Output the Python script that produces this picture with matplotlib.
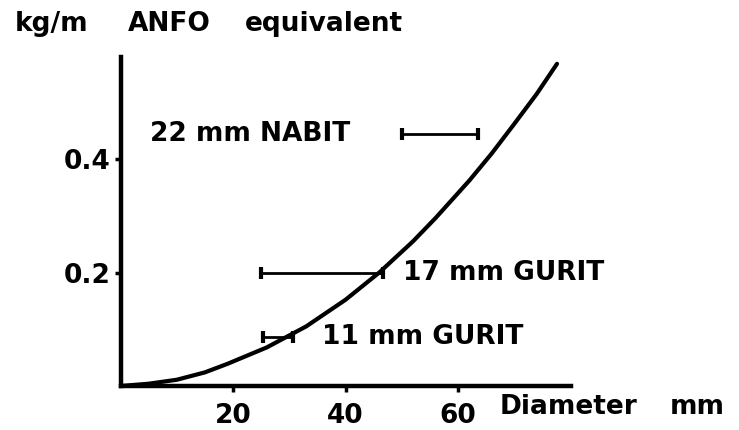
import numpy as np
import matplotlib.pyplot as plt

plt.rcParams['font.family'] = ['DejaVu Sans']
plt.rcParams['font.weight'] = 'bold'

# curve: diameter (mm) vs kg/m ANFO equivalent
diam = [0, 5, 10, 15, 19, 26, 33, 40, 46, 52, 56, 62, 66, 70, 74, 77.6]
anfo = [0, 0.004, 0.011, 0.024, 0.039, 0.068, 0.105, 0.152, 0.2, 0.255, 0.296,
        0.362, 0.41, 0.462, 0.515, 0.568]

# charge ranges
bar_labels = ["22 mm NABIT", "17 mm GURIT", "11 mm GURIT"]
bar_lo = [50.0, 25.0, 25.3]
bar_hi = [63.6, 46.7, 30.7]
bar_y = [0.444, 0.2, 0.087]
label_x = [5.3, 50.2, 35.9]

xticks = [20, 40, 60]
yticks = [0.2, 0.4]

fs = 19

W, H = 739, 430
fig = plt.figure(figsize=(W / 100, H / 100), dpi=100)
ax = fig.add_axes([120.5 / W, 1 - 386 / H, 450 / W, 329 / H])
ax.set_xlim(0, 80)
ax.set_ylim(0, 0.58)

ax.plot(diam, anfo, color='black', lw=3, solid_capstyle='round')

for lab, lo, hi, y, lx in zip(bar_labels, bar_lo, bar_hi, bar_y, label_x):
    c = (lo + hi) / 2
    ax.errorbar(c, y, xerr=[[c - lo], [hi - c]], fmt='none', ecolor='black',
                elinewidth=2, capsize=4, capthick=3)
    ax.text(lx, y, lab, fontsize=fs, fontweight='bold', va='center', ha='left')

for s in ['top', 'right']:
    ax.spines[s].set_visible(False)
for s in ['left', 'bottom']:
    ax.spines[s].set_linewidth(3.2)

ax.set_xticks(xticks)
ax.set_xticklabels([str(t) for t in xticks])
ax.set_yticks(yticks)
ax.set_yticklabels(['0.2', '0.4'])
ax.tick_params(axis='x', direction='out', length=4, width=2.5, pad=8, labelsize=fs)
ax.tick_params(axis='y', direction='out', length=4, width=2.5, pad=3, labelsize=fs)

# axis titles placed like the original drawing
fig.text(15 / W, 1 - 24 / H, "kg/m", fontsize=fs, fontweight='bold', va='center')
fig.text(128 / W, 1 - 24 / H, "ANFO", fontsize=fs, fontweight='bold', va='center')
fig.text(245 / W, 1 - 24 / H, "equivalent", fontsize=fs, fontweight='bold', va='center')
fig.text(500 / W, 1 - 407 / H, "Diameter", fontsize=fs, fontweight='bold', va='center')
fig.text(670 / W, 1 - 407 / H, "mm", fontsize=fs, fontweight='bold', va='center')

fig.savefig('out.png', dpi=100, facecolor='white')
